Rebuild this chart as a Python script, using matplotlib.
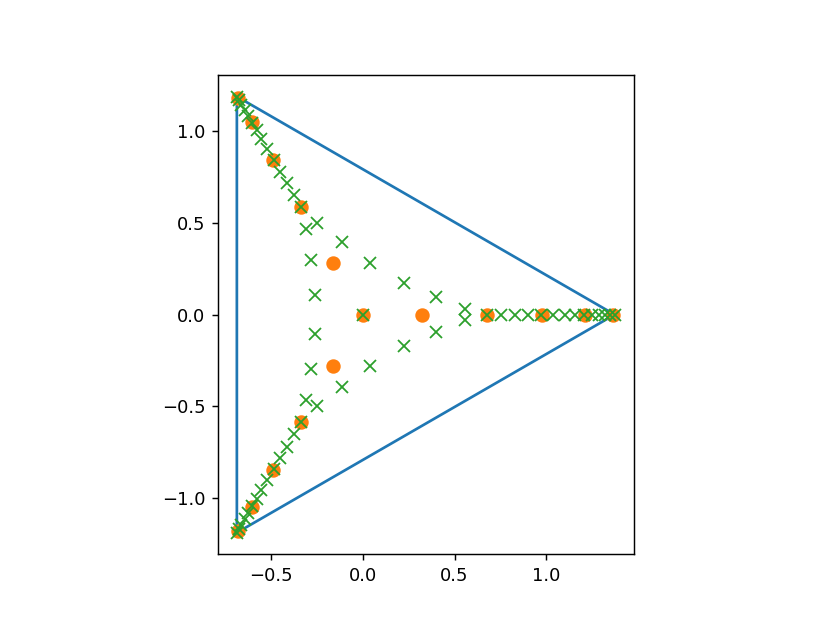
import matplotlib
matplotlib.use("Agg")
import matplotlib.pyplot as plt

# triangle (closed)
tri_x = [1.372, -0.686, -0.686, 1.372]
tri_y = [0.0, 1.188, -1.188, 0.0]

# orange dots
dots_x = [0.0,
          0.325, -0.163, -0.163,
          0.675, -0.338, -0.338,
          0.974, -0.487, -0.487,
          1.210, -0.605, -0.605,
          1.362, -0.681, -0.681]
dots_y = [0.0,
          0.0, 0.281, -0.281,
          0.0, 0.585, -0.585,
          0.0, 0.844, -0.844,
          0.0, 1.048, -1.048,
          0.0, 1.180, -1.180]

# green crosses : centre + inner rings
cross_x = [0.0,
           0.398, 0.398, -0.115, -0.115, -0.283, -0.283,
           0.223, 0.223, -0.261, -0.261, 0.038, 0.038,
           0.558, 0.558, -0.251, -0.251, -0.307, -0.307]
cross_y = [0.0,
           0.097, -0.097, 0.394, -0.394, 0.296, -0.296,
           0.173, -0.173, 0.107, -0.107, 0.279, -0.279,
           0.032, -0.032, 0.499, -0.499, 0.467, -0.467]

# green crosses along the three arms
arm_right_x = [0.676, 0.754, 0.830, 0.899, 0.972, 1.039, 1.103,
               1.158, 1.207, 1.249, 1.285, 1.321, 1.349, 1.372]
arm_right_y = [0.0] * 14
arm_up_x = [-0.338, -0.377, -0.415, -0.450, -0.486, -0.520, -0.552,
            -0.579, -0.604, -0.625, -0.643, -0.661, -0.675, -0.686]
arm_up_y = [0.585, 0.653, 0.719, 0.779, 0.842, 0.900, 0.955,
            1.003, 1.045, 1.082, 1.113, 1.144, 1.168, 1.188]
arm_down_x = arm_up_x
arm_down_y = [-v for v in arm_up_y]

fig = plt.figure(figsize=(6.4, 4.8), dpi=129.8)
ax = fig.add_subplot(111)

ax.plot(tri_x, tri_y)
ax.plot(dots_x, dots_y, 'o', markersize=7)
ax.plot(cross_x + arm_right_x + arm_up_x + arm_down_x,
        cross_y + arm_right_y + arm_up_y + arm_down_y, 'x', markersize=7)

ax.set_aspect('equal')

fig.savefig("out.png", dpi=129.8)
